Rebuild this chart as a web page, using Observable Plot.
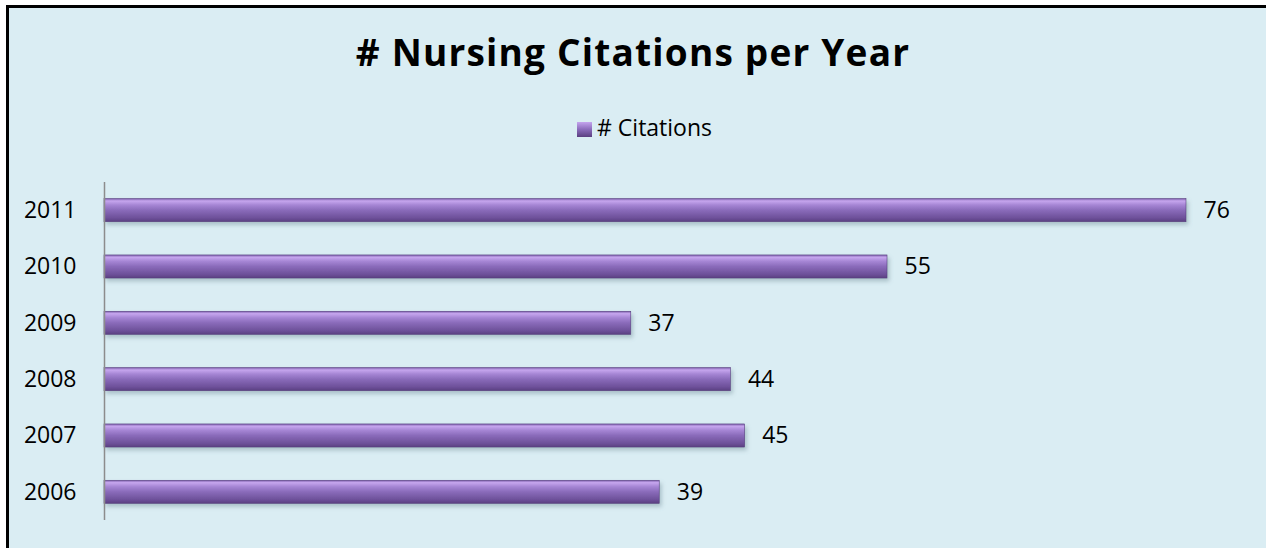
<!DOCTYPE html>
<html>
<head>
<meta charset="utf-8">
<script src="https://cdn.jsdelivr.net/npm/d3@7"></script>
<script src="https://cdn.jsdelivr.net/npm/@observablehq/plot@0.6"></script>
<style>
  html, body { margin: 0; padding: 0; background: #DAEDF3; overflow: hidden; }
  #page { position: relative; width: 1266px; height: 548px; overflow: hidden; font-family: "Open Sans", Lato, sans-serif; background: #ffffff; }
  #frame { position: absolute; left: 6px; top: 5px; width: 1265px; height: 550px; background: #DAEDF3; border-left: 3px solid #000; border-top: 3px solid #000; }
  #title { position: absolute; left: 0; top: 27px; width: 1266px; text-align: center; font-weight: 700; font-size: 37px; letter-spacing: 1.2px; line-height: 50px; color: #000; }
  #legend { position: absolute; left: 577px; top: 112px; white-space: nowrap; font-size: 23px; line-height: 30px; color: #000; }
  #legend .sw { display: inline-block; width: 15px; height: 15px; background: linear-gradient(#c4a4ee, #8a6bba 50%, #5a3f80); margin-right: 5px; vertical-align: -1px; }
  #chart { position: absolute; left: 0; top: 160px; }
</style>
</head>
<body>
<div id="page">
  <div id="frame"></div>
  <div id="title"># Nursing Citations per Year</div>
  <div id="legend"><span class="sw"></span># Citations</div>
  <div id="chart"></div>
</div>
<script>
const years = ["2011", "2010", "2009", "2008", "2007", "2006"];
const citations = [76, 55, 37, 44, 45, 39];
const seriesName = "# Citations";

const data = years.map((y, i) => ({year: y, value: citations[i]}));

const chart = Plot.plot({
  width: 1266,
  height: 380,
  marginLeft: 104,
  marginRight: 80,
  marginTop: 22,
  marginBottom: 20,
  style: {background: "transparent", fontFamily: "'Open Sans', Lato, sans-serif", fontSize: "23px", color: "#000"},
  x: {domain: [0, 76], axis: null},
  y: {domain: years, paddingInner: 0.59, paddingOuter: 0.295, round: false, label: null},
  marks: [
    Plot.barX(data, {x: "value", y: "year", fill: "url(#barGrad)", stroke: "#5a3f80", strokeWidth: 0.6}),
    Plot.ruleX([0], {stroke: "#8c8c8c", strokeWidth: 1.5}),
    Plot.axisY({tickSize: 0, tickPadding: 28, fontSize: 23, label: null}),
    Plot.text(data, {x: "value", y: "year", text: d => String(d.value), dx: 17, textAnchor: "start", fontSize: 23, fill: "#000"})
  ]
});

const svg = d3.select(chart);
const defs = svg.insert("defs", ":first-child");
const g = defs.append("linearGradient").attr("id", "barGrad").attr("x1", 0).attr("y1", 0).attr("x2", 0).attr("y2", 1);
[[0, "#7d5fab"], [0.1, "#c6a6ee"], [0.28, "#a585d4"], [0.5, "#8a6bba"], [0.85, "#6c4f98"], [1, "#5a3f80"]].forEach(([o, c]) => g.append("stop").attr("offset", o).attr("stop-color", c));
const f = defs.append("filter").attr("id", "shadow").attr("x", "-5%").attr("y", "-50%").attr("width", "110%").attr("height", "200%");
f.append("feDropShadow").attr("dx", 2).attr("dy", 3).attr("stdDeviation", 2).attr("flood-color", "#6f8a94").attr("flood-opacity", 0.45);
svg.selectAll("rect").attr("filter", "url(#shadow)");

document.getElementById("chart").appendChild(chart);
</script>
</body>
</html>
